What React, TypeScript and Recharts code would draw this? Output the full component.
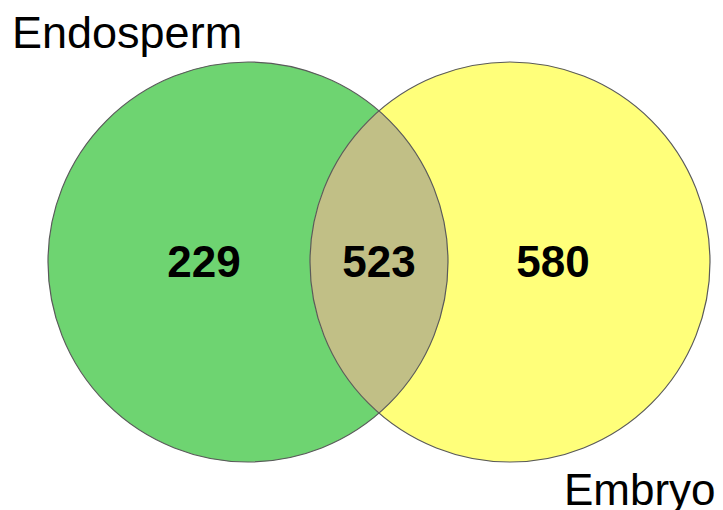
import React from 'react';
import { ScatterChart, Scatter, XAxis, YAxis } from 'recharts';

const W = 723;
const H = 510;

const setNames = ['Endosperm', 'Embryo'];
const circleX = [248, 510];
const circleY = [262, 262];
const circleR = [200, 200];
const setColors = ['#6ed471', '#ffff7a'];
const overlapColor = '#c1bf86';
const regionCounts = [229, 523, 580];
const regionX = [204, 379, 553];
const regionY = [277, 277, 277];
const nameX = [12, 564];
const nameY = [48, 505];
const nameSize = [45, 44];

const ratio = W / W; // pixels per data unit (domain == plot size)

const circleData = circleX.map((x, i) => ({ x, y: circleY[i], r: circleR[i], fill: setColors[i], name: setNames[i] }));
const lensData = [{ x: circleX[0], y: circleY[0] }];
const countData = regionCounts.map((v, i) => ({ x: regionX[i], y: regionY[i], v }));
const nameData = setNames.map((n, i) => ({ x: nameX[i], y: nameY[i], n, s: nameSize[i] }));

const FillCircle = (props: any) => {
  const { cx, cy, payload } = props;
  return <circle cx={cx} cy={cy} r={payload.r * ratio} fill={payload.fill} stroke="none" />;
};

const OutlineCircle = (props: any) => {
  const { cx, cy, payload } = props;
  return <circle cx={cx} cy={cy} r={payload.r * ratio} fill="none" stroke="#5a5a5a" strokeWidth={1.2} />;
};

const Lens = (props: any) => {
  const { cx, cy } = props;
  const r1 = circleR[0] * ratio;
  const r2 = circleR[1] * ratio;
  const d = (circleX[1] - circleX[0]) * ratio;
  const a = (r1 * r1 - r2 * r2 + d * d) / (2 * d);
  const h = Math.sqrt(r1 * r1 - a * a);
  const px = cx + a;
  const path = `M ${px} ${cy - h} A ${r1} ${r1} 0 0 1 ${px} ${cy + h} A ${r2} ${r2} 0 0 1 ${px} ${cy - h} Z`;
  return <path d={path} fill={overlapColor} stroke="none" />;
};

const CountLabel = (props: any) => {
  const { cx, cy, payload } = props;
  return (
    <text x={cx} y={cy} textAnchor="middle" fontFamily="'Liberation Sans', Arial, sans-serif" fontWeight="bold" fontSize={44} fill="#000">
      {payload.v}
    </text>
  );
};

const NameLabel = (props: any) => {
  const { cx, cy, payload } = props;
  return (
    <text x={cx} y={cy} textAnchor="start" fontFamily="'Liberation Sans', Arial, sans-serif" fontSize={payload.s} fill="#000">
      {payload.n}
    </text>
  );
};

export default function App() {
  return (
    <div style={{ position: 'absolute', left: 0, top: 0, width: W, height: H, background: '#fff' }}>
      <ScatterChart width={W} height={H} margin={{ top: 0, right: 0, bottom: 0, left: 0 }}>
        <XAxis type="number" dataKey="x" domain={[0, W]} hide />
        <YAxis type="number" dataKey="y" domain={[0, H]} reversed hide />
        <Scatter data={circleData} shape={FillCircle} isAnimationActive={false} />
        <Scatter data={lensData} shape={Lens} isAnimationActive={false} />
        <Scatter data={circleData} shape={OutlineCircle} isAnimationActive={false} />
        <Scatter data={countData} shape={CountLabel} isAnimationActive={false} />
        <Scatter data={nameData} shape={NameLabel} isAnimationActive={false} />
      </ScatterChart>
    </div>
  );
}
